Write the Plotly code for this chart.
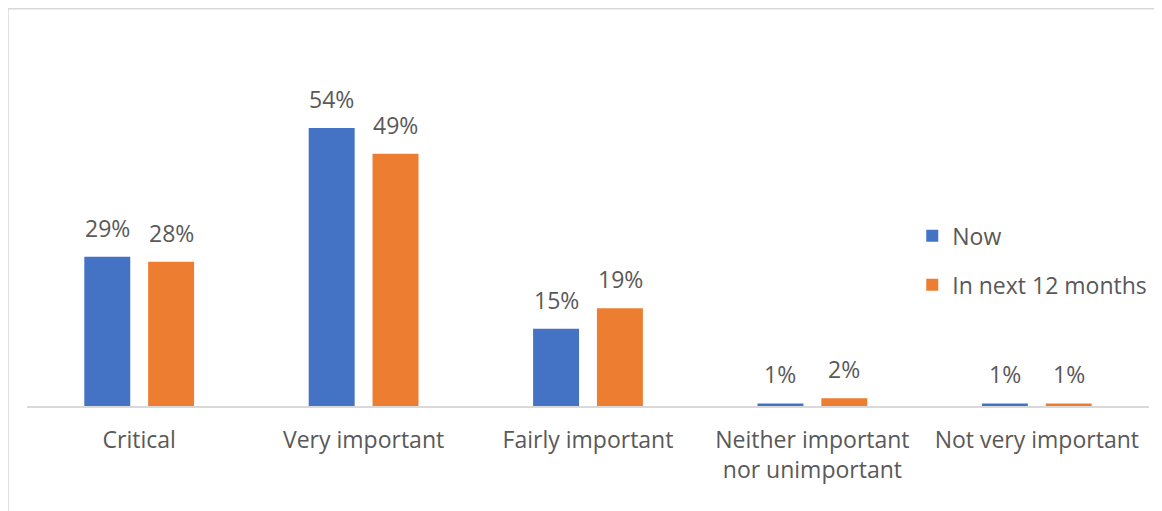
import plotly.graph_objects as go

categories = ["Critical", "Very important", "Fairly important",
              "Neither important<br>nor unimportant", "Not very important"]
now_values = [29, 54, 15, 0.5, 0.5]
next12_values = [28, 49, 19, 1.5, 0.5]
series_names = ["Now", "In next 12 months"]
colors = ["#4472C4", "#ED7D31"]

FONT = "Open Sans"
TXT = "#595959"
FS = 23

fig = go.Figure()
for name, vals, col in zip(series_names, [now_values, next12_values], colors):
    fig.add_trace(go.Bar(
        x=categories, y=vals, name=name, marker_color=col,
        marker_line_width=0, legendgroup=name,
    ))

# data labels above bars
for k, vals in enumerate([now_values, next12_values]):
    shift = -32 if k == 0 else 32
    for c, v in zip(categories, vals):
        fig.add_annotation(
            x=c, y=v, text=f"{v:.0f}%" if v >= 1 else "1%",
            showarrow=False, xshift=shift, yshift=29, yanchor="middle",
            font=dict(family=FONT, size=FS, color=TXT),
        )

fig.add_shape(type="rect", xref="paper", yref="paper",
              x0=-0.0169, x1=1.2, y0=-1.0, y1=1.2856,
              line=dict(color="#D9D9D9", width=1.5), fillcolor="rgba(0,0,0,0)",
              layer="below")

fig.update_layout(
    width=1154, height=503,
    margin=dict(l=19, r=10, t=89, b=105),
    paper_bgcolor="white", plot_bgcolor="white",
    barmode="group", bargap=0.431, bargroupgap=0.28,
    font=dict(family=FONT, size=FS, color=TXT),
    showlegend=True,
    legend=dict(x=0.789, y=0.62, xanchor="left", yanchor="top",
                font=dict(family=FONT, size=FS, color=TXT),
                tracegroupgap=16, bgcolor="rgba(0,0,0,0)"),
    xaxis=dict(showline=True, linecolor="#D9D9D9", linewidth=1.5,
               ticks="outside", ticklen=13, tickcolor="rgba(0,0,0,0)",
               tickfont=dict(family=FONT, size=FS, color=TXT)),
    yaxis=dict(range=[0, 60], visible=False, showgrid=False, zeroline=False),
)

fig.write_html("out.html")
